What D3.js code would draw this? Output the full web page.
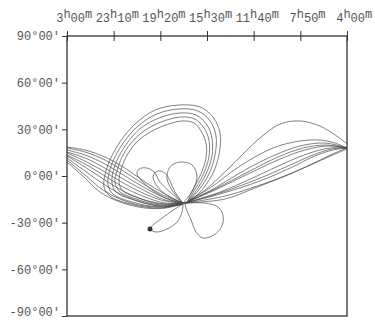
<!DOCTYPE html>
<html lang="en">
<head>
<meta charset="UTF-8" />
<title>Track</title>
<style>
  body { margin: 0; background: #fff; }
  svg { display: block; }
</style>
</head>
<body>
<svg id="chart" width="375" height="320"></svg>
<script src="https://d3js.org/d3.v7.min.js"></script>
<script>
// right ascension ticks (hours, left edge is 3h = 27h) and their labels
const raTicks = [27, 23 + 10 / 60, 19 + 20 / 60, 15.5, 11 + 40 / 60, 7 + 50 / 60, 4];
const raLabels = [["3", "00"], ["23", "10"], ["19", "20"], ["15", "30"], ["11", "40"], ["7", "50"], ["4", "00"]];
const decTicks = [90, 60, 30, 0, -30, -60, -90];

// tracks as [RA hours, Dec degrees]
const leftBand = [
  [[27.00, 18.6], [25.52, 16.7], [23.88, 12.2], [22.24, 5.1], [20.59, -3.9], [18.95, -11.6], [17.47, -17.4]],
  [[27.00, 18.0], [25.52, 15.4], [23.88, 10.3], [22.24, 2.6], [20.59, -5.8], [18.95, -12.9], [17.47, -17.4]],
  [[27.00, 16.7], [25.52, 13.5], [23.88, 7.7], [22.24, 0.0], [20.59, -7.7], [18.95, -14.1], [17.47, -17.4]],
  [[27.00, 15.4], [25.52, 11.6], [23.88, 5.1], [22.24, -2.6], [20.59, -9.6], [18.95, -15.4], [17.47, -17.4]],
  [[27.00, 14.8], [25.52, 9.6], [23.88, 2.6], [22.24, -5.1], [20.59, -11.6], [18.95, -16.1], [17.47, -17.4]],
  [[27.00, 13.5], [25.52, 7.7], [23.88, 0.0], [22.24, -7.7], [20.59, -13.5], [18.95, -17.4], [17.47, -17.4]],
  [[27.00, 12.9], [25.52, 5.8], [23.88, -2.6], [22.24, -10.3], [20.59, -15.4], [18.95, -18.0], [17.47, -17.4]],
  [[27.00, 11.6], [25.52, 3.2], [23.88, -5.8], [22.24, -12.9], [20.59, -17.4], [18.95, -19.3], [17.47, -18.0]],
  [[27.00, 10.3], [25.52, 0.6], [24.04, -9.0], [22.24, -16.1], [20.59, -19.3], [18.95, -19.9], [17.47, -18.0]],
  [[27.00, 9.0], [25.52, -1.3], [24.29, -10.3], [22.65, -16.7], [20.59, -20.6], [18.95, -20.6], [17.47, -18.0]]
];

const rightBand = [
  [[17.31, -17.4], [15.66, -9.0], [13.61, 5.8], [11.15, 24.4], [9.50, 33.4], [7.86, 35.4], [6.22, 32.1], [4.74, 25.1], [4.00, 20.6]],
  [[17.31, -17.4], [15.25, -7.7], [12.79, 6.4], [10.08, 18.0], [7.86, 22.5], [6.22, 23.1], [4.99, 21.2], [4.00, 18.0]],
  [[17.31, -17.4], [14.84, -7.7], [12.38, 3.9], [9.91, 13.5], [7.86, 19.3], [5.80, 21.2], [4.00, 18.0]],
  [[17.31, -17.4], [14.84, -8.4], [12.13, 2.6], [9.67, 12.2], [7.61, 18.0], [5.73, 19.9], [4.00, 18.0]],
  [[17.31, -17.4], [14.84, -9.0], [11.97, 1.9], [9.50, 10.9], [7.45, 16.7], [5.56, 19.3], [4.00, 18.0]],
  [[17.31, -17.4], [14.43, -10.3], [11.56, -0.6], [9.09, 8.4], [7.04, 14.8], [5.40, 18.0], [4.00, 18.0]],
  [[17.31, -17.4], [14.43, -10.9], [11.31, -1.9], [8.85, 6.4], [6.79, 13.5], [5.23, 17.4], [4.00, 18.0]],
  [[17.31, -17.4], [14.43, -11.6], [11.15, -3.2], [8.68, 5.1], [6.63, 12.9], [5.15, 16.7], [4.00, 18.0]],
  [[17.31, -17.4], [14.02, -12.9], [11.15, -5.8], [8.68, 1.3], [6.38, 9.6], [4.99, 14.8], [4.00, 18.0]],
  [[17.31, -17.4], [14.02, -14.8], [11.56, -7.7], [9.09, 0.0], [6.63, 8.4], [4.99, 14.1], [4.00, 17.4]]
];

const bigLoops = [
  [[17.31, -17.4], [19.36, -20.6], [21.82, -18.0], [23.47, -12.9], [23.96, -7.1], [23.88, 0.6], [23.47, 10.3], [22.65, 21.9],
   [21.41, 33.4], [19.77, 42.4], [17.88, 45.6], [16.07, 44.4], [15.01, 37.9], [14.43, 27.6], [14.52, 13.5], [15.09, 0.6], [16.07, -10.3], [17.14, -17.4]],
  [[17.31, -17.4], [19.36, -19.9], [21.66, -16.7], [23.22, -11.6], [23.63, -5.8], [23.55, 1.9], [23.14, 10.9], [22.32, 21.9],
   [21.17, 32.1], [19.61, 39.9], [17.80, 43.1], [16.24, 41.8], [15.25, 35.4], [14.76, 25.7], [14.84, 13.5], [15.34, 1.3], [16.24, -9.6], [17.14, -17.4]],
  [[17.31, -17.4], [19.36, -19.3], [21.50, -15.4], [22.98, -10.3], [23.30, -4.5], [23.22, 2.6], [22.81, 11.6], [21.99, 21.9],
   [20.92, 30.9], [19.44, 37.3], [17.72, 40.5], [16.40, 39.2], [15.50, 32.8], [15.09, 24.4], [15.09, 12.9], [15.58, 1.3], [16.40, -9.6], [17.14, -17.4]],
  [[17.31, -17.4], [19.36, -18.6], [21.33, -14.8], [22.73, -9.6], [23.06, -3.9], [22.90, 3.2], [22.48, 12.2], [21.74, 21.2],
   [20.67, 28.9], [19.28, 34.7], [17.64, 37.9], [16.49, 36.6], [15.75, 30.9], [15.34, 23.1], [15.34, 12.2], [15.83, 0.6], [16.57, -9.6], [17.14, -17.4]],
  [[17.31, -17.4], [19.36, -18.0], [21.17, -14.1], [22.48, -9.0], [22.73, -3.2], [22.56, 3.9], [22.15, 12.2], [21.41, 20.6],
   [20.43, 27.0], [19.11, 32.1], [17.55, 35.4], [16.57, 34.1], [15.99, 28.9], [15.58, 21.2], [15.58, 11.6], [16.07, 0.0], [16.73, -9.6], [17.14, -17.4]]
];

const smallLoops = [
  [[17.47, -17.4], [18.54, -10.3], [19.36, -3.9], [19.85, 2.6], [20.43, 5.1], [21.09, 4.5], [21.25, 1.3], [20.76, -3.9], [19.77, -10.3], [18.54, -15.4], [17.47, -17.4]],
  [[17.47, -17.4], [18.13, -10.3], [18.54, -3.2], [18.95, 1.9], [19.52, 3.2], [19.93, 0.0], [19.61, -6.4], [18.70, -12.9], [17.47, -17.4]],
  [[17.47, -17.4], [18.38, -9.0], [18.79, -1.3], [18.54, 5.8], [17.72, 9.0], [16.73, 7.1], [16.32, 0.0], [16.65, -9.0], [17.47, -17.4]],
  [[17.31, -17.4], [15.66, -17.4], [14.60, -19.9], [14.19, -25.1], [14.27, -32.1], [14.93, -37.9], [15.83, -39.9], [16.40, -36.0], [16.81, -28.3], [17.23, -20.6], [17.31, -17.4]],
  [[17.47, -18.0], [18.38, -22.5], [19.28, -27.6], [20.02, -32.1], [20.18, -34.1], [19.69, -36.0], [18.79, -34.1], [17.96, -29.6], [17.55, -23.1], [17.47, -18.0]]
];

const startPoint = [20.18, -34.1];

const svg = d3.select("#chart");
const font = "'Liberation Mono', 'DejaVu Sans Mono', monospace";

const x = d3.scaleLinear().domain([27, 4]).range([67, 347]);
const y = d3.scaleLinear().domain([-90, 90]).range([316, 36]);

const line = d3.line()
  .x(d => x(d[0]))
  .y(d => y(d[1]))
  .curve(d3.curveCatmullRom.alpha(0.5));

const tracks = svg.append("g")
  .attr("fill", "none")
  .attr("stroke", "#4a4a4a")
  .attr("stroke-width", 0.7);

tracks.selectAll(".lb").data(leftBand).enter().append("path").attr("class", "lb").attr("d", line);
tracks.selectAll(".rb").data(rightBand).enter().append("path").attr("class", "rb").attr("d", line);
tracks.selectAll(".bl").data(bigLoops).enter().append("path").attr("class", "bl").attr("d", line);
tracks.selectAll(".sl").data(smallLoops).enter().append("path").attr("class", "sl").attr("d", line);

svg.append("circle")
  .attr("cx", x(startPoint[0]))
  .attr("cy", y(startPoint[1]))
  .attr("r", 2.5)
  .attr("fill", "#333");

// frame
svg.append("rect")
  .attr("x", x(27))
  .attr("y", y(90))
  .attr("width", x(4) - x(27))
  .attr("height", y(-90) - y(90))
  .attr("fill", "none")
  .attr("stroke", "#333")
  .attr("stroke-width", 1.3);

// top axis
const topAxis = svg.append("g")
  .attr("transform", `translate(0,${y(90)})`)
  .call(d3.axisTop(x).tickValues(raTicks).tickSize(5).tickFormat(""));
topAxis.select(".domain").remove();
topAxis.selectAll(".tick line").attr("y1", 5).attr("stroke", "#333");

const cw = 7.2;
svg.append("g")
  .selectAll("text")
  .data(raTicks)
  .enter()
  .append("text")
  .attr("font-family", font)
  .attr("font-size", 12)
  .attr("fill", "#555")
  .attr("x", (d, i) => x(d) - (raLabels[i][0].length + 0.5) * cw)
  .attr("y", y(90) - 14)
  .each(function (d, i) {
    const t = d3.select(this);
    t.append("tspan").text(raLabels[i][0]);
    t.append("tspan").attr("dy", -4).text("h");
    t.append("tspan").attr("dy", 4).text(raLabels[i][1]);
    t.append("tspan").attr("dy", -4).text("m");
  });

// left axis
const leftAxis = svg.append("g")
  .attr("transform", `translate(${x(27)},0)`)
  .call(d3.axisLeft(y).tickValues(decTicks).tickSize(5).tickPadding(2).tickFormat(d => `${d}°00'`));
leftAxis.select(".domain").remove();
leftAxis.selectAll(".tick line").attr("stroke", "#333");
leftAxis.selectAll(".tick text")
  .attr("font-family", font)
  .attr("font-size", 12)
  .attr("fill", "#555")
  .attr("y", d => (d === -90 ? -4 : 0));
</script>
</body>
</html>
